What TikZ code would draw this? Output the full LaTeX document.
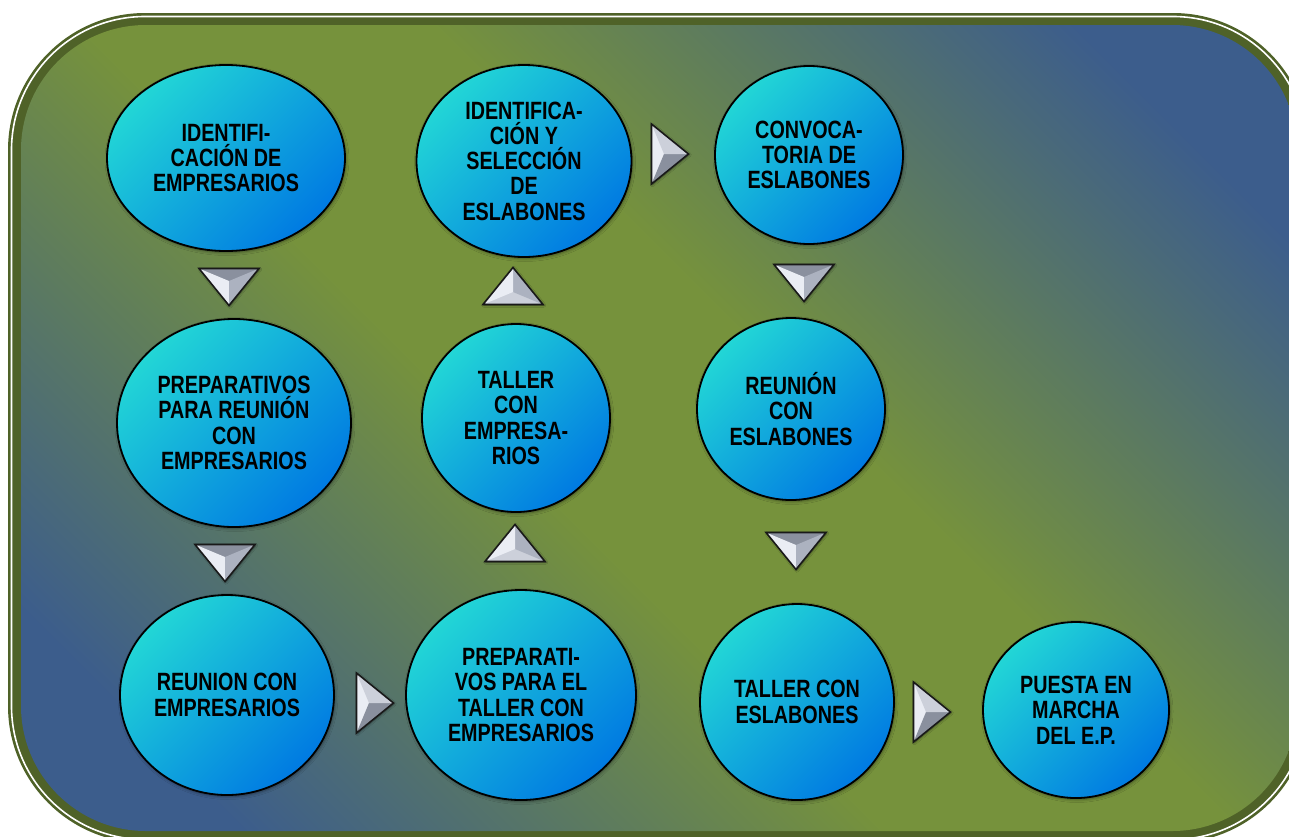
\documentclass[tikz,border=0pt]{standalone}
\usepackage{fontspec}
\newfontfamily\bubfont{Liberation Sans}[FakeStretch=0.79]
\usetikzlibrary{shapes.geometric,shadows.blur}
\definecolor{bggreen}{RGB}{118,146,60}
\definecolor{bgblue}{RGB}{60,93,140}
\definecolor{framedark}{RGB}{79,98,40}
\definecolor{bubcyan}{RGB}{34,214,214}
\definecolor{bubmid}{RGB}{18,178,222}
\definecolor{bubblue}{RGB}{0,122,226}
\definecolor{silverdark}{RGB}{138,144,158}
\definecolor{silvermid}{RGB}{172,178,192}
\definecolor{silverlight}{RGB}{204,208,218}
\definecolor{silverwhite}{RGB}{234,237,244}
\pgfdeclareverticalshading{bgshade}{100bp}{color(0bp)=(bgblue); color(22bp)=(bgblue); color(44bp)=(bggreen); color(56bp)=(bggreen); color(78bp)=(bgblue); color(100bp)=(bgblue)}
\tikzset{
  bub/.style={ellipse, draw=black, line width=1.8pt, inner sep=0pt, align=center,
    shading=axis, top color=bubcyan, middle color=bubmid, bottom color=bubblue, shading angle=45,
    font=\bubfont\bfseries\fontsize{25}{25.3}\selectfont,
    blur shadow={shadow xshift=1pt, shadow yshift=-1.5pt, shadow blur radius=3pt, shadow opacity=45}},
  triline/.style={draw=black!90, line width=1.6pt, line join=miter},
}
% name, x, y, rotation, base facet, left facet, right facet
\newcommand\silvertri[7]{%
  \coordinate (#1) at (#2,#3);
  \begin{scope}[shift={(#1)}, rotate=#4]
    \coordinate (#1-a) at (-30,-18.5);
    \coordinate (#1-b) at (30,-18.5);
    \coordinate (#1-c) at (0,18.5);
    \coordinate (#1-p) at (0,-6);
    \path[blur shadow={shadow xshift=0.8pt, shadow yshift=-0.8pt, shadow blur radius=2pt, shadow opacity=50}, fill=#5] (#1-a) -- (#1-b) -- (#1-c) -- cycle;
    \fill[#5] (#1-a) -- (#1-b) -- (#1-p) -- cycle;
    \fill[#6] (#1-a) -- (#1-p) -- (#1-c) -- cycle;
    \fill[#7] (#1-b) -- (#1-p) -- (#1-c) -- cycle;
    \path[triline] (#1-a) -- (#1-b) -- (#1-c) -- cycle;
  \end{scope}}
\begin{document}
\begin{tikzpicture}[x=1pt,y=-1pt]
\useasboundingbox (0,0) rectangle (1289,836);
\clip (0,0) rectangle (1289,836);
% frame
\fill[framedark, rounded corners=137pt] (8,13) rectangle (1310,843);
\draw[white, line width=1.6pt, rounded corners=133.5pt] (11.5,16.5) rectangle (1306.5,839.5);
\shade[shading=bgshade, shading angle=-45, rounded corners=125pt] (21,25) rectangle (1297,831);

% bubbles
\node[bub, minimum width=238pt, minimum height=186pt] (n1) at (226,158) {IDENTIFI-\\CACIÓN DE\\EMPRESARIOS};
\node[bub, minimum width=234pt, minimum height=208pt] (n2) at (234,423) {PREPARATIVOS\\PARA REUNIÓN\\CON\\EMPRESARIOS};
\node[bub, minimum width=214pt, minimum height=200pt] (n3) at (227,695) {REUNION CON\\EMPRESARIOS};
\node[bub, minimum width=230pt, minimum height=210pt] (n4) at (521,695) {PREPARATI-\\VOS PARA EL\\TALLER CON\\EMPRESARIOS};
\node[bub, minimum width=188pt, minimum height=188pt] (n5) at (516,418) {TALLER\\CON\\EMPRESA-\\RIOS};
\node[bub, minimum width=215pt, minimum height=192pt] (n6) at (524,161) {IDENTIFICA-\\CIÓN Y\\SELECCIÓN\\DE\\ESLABONES};
\node[bub, minimum width=188pt, minimum height=178pt] (n7) at (809,155) {CONVOCA-\\TORIA DE\\ESLABONES};
\node[bub, minimum width=188pt, minimum height=182pt] (n8) at (791,409) {REUNIÓN\\CON\\ESLABONES};
\node[bub, minimum width=194pt, minimum height=196pt] (n9) at (797,702) {TALLER CON\\ESLABONES};
\node[bub, minimum width=186pt, minimum height=176pt] (n10) at (1076,710) {PUESTA EN\\MARCHA\\DEL E.P.};

% arrows
\silvertri{t1}{229}{287}{0}{silverdark}{silverwhite}{silvermid}
\silvertri{t2}{225}{563}{0}{silverdark}{silverwhite}{silvermid}
\silvertri{t3}{375}{703}{90}{silverwhite}{silverdark}{silverlight}
\silvertri{t4}{515}{543}{180}{silverlight}{silvermid}{silverwhite}
\silvertri{t5}{513}{286}{180}{silverlight}{silvermid}{silverwhite}
\silvertri{t6}{670}{154}{90}{silverwhite}{silverdark}{silverlight}
\silvertri{t7}{804}{283}{0}{silverdark}{silverwhite}{silvermid}
\silvertri{t8}{796}{551}{0}{silverdark}{silverwhite}{silvermid}
\silvertri{t9}{932}{712}{90}{silverwhite}{silverdark}{silverlight}
\end{tikzpicture}
\end{document}
